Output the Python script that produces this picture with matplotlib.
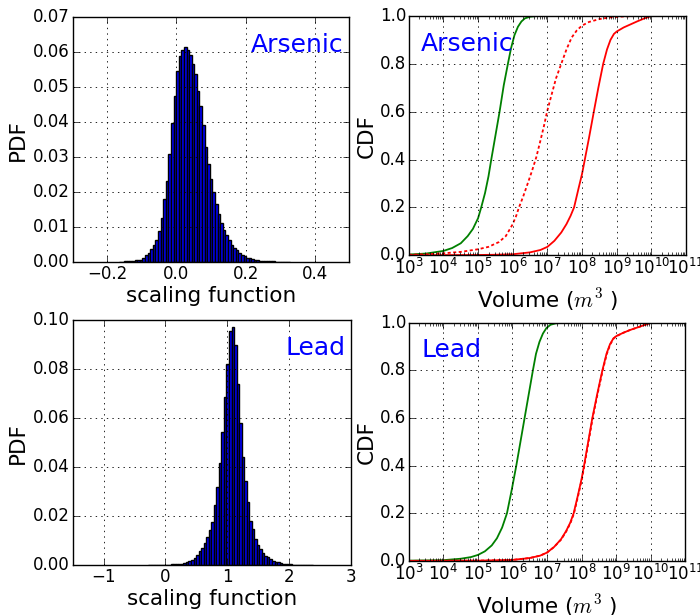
import numpy as np
import matplotlib
matplotlib.use("Agg")
import matplotlib.pyplot as plt

plt.style.use("classic")
plt.rcParams["font.family"] = ["DejaVu Sans"]
plt.rcParams["mathtext.fontset"] = "cm"

# histogram of the scaling function, Arsenic (bin width 0.0075)
as_start, as_width = -0.166, 0.0075
pdf_arsenic = [0.0001, 0.0001, 0.0002, 0.0002, 0.0003, 0.0004, 0.0005, 0.0006,
               0.0007, 0.0012, 0.0019, 0.0026, 0.0036, 0.0049, 0.0062, 0.0089,
               0.0127, 0.0179, 0.0233, 0.0310, 0.0397, 0.0476, 0.0546, 0.0589,
               0.0605, 0.0616,
               0.0605, 0.0593, 0.0567, 0.0538, 0.0489, 0.0446, 0.0392, 0.0330,
               0.0281, 0.0238, 0.0200, 0.0165, 0.0138, 0.0111, 0.0092, 0.0076,
               0.0062, 0.0050, 0.0041, 0.0033, 0.0027, 0.0021, 0.0016, 0.0012,
               0.0010, 0.0008, 0.0006, 0.0005, 0.0004, 0.0003,
               0.0003, 0.0002, 0.0002, 0.0002, 0.0001, 0.0001, 0.0001, 0.0001,
               0.0001, 0.0001]

# histogram of the scaling function, Lead (bin width 0.041)
pb_start, pb_width = -0.283, 0.041
pdf_lead = [0.0001, 0.0001, 0.0001, 0.0001, 0.0001, 0.0002, 0.0002, 0.0002,
            0.0002, 0.0003, 0.0003, 0.0003, 0.0004,
            0.0005, 0.0008, 0.0012, 0.0016, 0.0022, 0.0029, 0.0042, 0.0056,
            0.0069, 0.0090, 0.0114, 0.0144, 0.0178, 0.0246, 0.0320, 0.0418,
            0.0545, 0.0687, 0.0823, 0.0955, 0.0973,
            0.0898, 0.0740, 0.0580, 0.0443, 0.0345, 0.0260, 0.0182, 0.0147,
            0.0106, 0.0083, 0.0067, 0.0049, 0.0038, 0.0033, 0.0024, 0.0019,
            0.0015, 0.0011, 0.0008, 0.0005, 0.0004,
            0.0003, 0.0003, 0.0002, 0.0002, 0.0002, 0.0001, 0.0001, 0.0001,
            0.0001, 0.0001]

# CDF curves: log10(volume) and cumulative probability
as_green_logv = [3.0, 3.5, 4.0, 4.25, 4.5, 4.7, 4.85, 5.0, 5.09, 5.2, 5.3, 5.38,
                 5.5, 5.62, 5.74, 5.86, 5.95, 6.05, 6.15, 6.25, 6.35, 6.5, 6.7]
as_green_cdf = [0.003, 0.007, 0.018, 0.03, 0.05, 0.08, 0.11, 0.155, 0.2, 0.26,
                0.33, 0.4, 0.5, 0.6, 0.71, 0.8, 0.865, 0.92, 0.955, 0.977,
                0.99, 0.997, 1.0]
as_dash_logv = [3.0, 3.5, 4.0, 4.5, 5.0, 5.3, 5.6, 5.8, 6.0, 6.1, 6.18, 6.3,
                6.42, 6.55, 6.68, 6.8, 6.9, 6.99, 7.1, 7.25, 7.4, 7.55, 7.7,
                7.85, 8.0, 8.2, 8.5, 8.8, 9.2, 9.6, 10.0]
as_dash_cdf = [0.002, 0.004, 0.008, 0.014, 0.025, 0.035, 0.055, 0.08, 0.13,
               0.165, 0.2, 0.245, 0.295, 0.35, 0.41, 0.48, 0.54, 0.6, 0.66,
               0.74, 0.8, 0.86, 0.91, 0.94, 0.96, 0.975, 0.987, 0.994, 0.998,
               1.0, 1.0]
as_red_logv = [3.0, 5.0, 5.5, 6.0, 6.5, 6.8, 7.0, 7.2, 7.4, 7.55, 7.67, 7.77,
               7.9, 8.0, 8.08, 8.2, 8.34, 8.47, 8.61, 8.72, 8.82, 8.92, 9.0,
               9.2, 9.4, 9.6, 9.8, 10.0]
as_red_cdf = [0.0, 0.001, 0.002, 0.004, 0.012, 0.022, 0.035, 0.06, 0.095, 0.13,
              0.165, 0.2, 0.28, 0.34, 0.4, 0.49, 0.6, 0.7, 0.8, 0.86, 0.9,
              0.925, 0.935, 0.952, 0.965, 0.978, 0.99, 1.0]

pb_green_logv = [3.0, 4.0, 4.5, 4.8, 5.0, 5.2, 5.4, 5.55, 5.7, 5.84, 5.98, 6.11,
                 6.23, 6.35, 6.47, 6.59, 6.68, 6.78, 6.88, 6.98, 7.1, 7.25,
                 7.45]
pb_green_cdf = [0.001, 0.003, 0.009, 0.016, 0.025, 0.04, 0.065, 0.095, 0.14,
                0.2, 0.3, 0.4, 0.5, 0.6, 0.7, 0.8, 0.87, 0.92, 0.955, 0.978,
                0.992, 0.998, 1.0]
pb_red_logv = [3.0, 5.0, 6.0, 6.5, 6.8, 7.0, 7.2, 7.4, 7.55, 7.67, 7.77, 7.9,
               8.0, 8.07, 8.19, 8.31, 8.45, 8.6, 8.72, 8.82, 8.92, 9.01, 9.2,
               9.4, 9.6, 9.8, 10.0]
pb_red_cdf = [0.0, 0.001, 0.004, 0.012, 0.022, 0.035, 0.058, 0.09, 0.125, 0.16,
              0.2, 0.28, 0.345, 0.4, 0.5, 0.6, 0.7, 0.8, 0.87, 0.91, 0.935,
              0.945, 0.958, 0.97, 0.98, 0.99, 1.0]
pb_dash_logv = [3.0, 5.0, 6.0, 6.5, 6.8, 7.0, 7.2, 7.41, 7.56, 7.68, 7.78, 7.91,
                8.01, 8.08, 8.2, 8.32, 8.46, 8.61, 8.73, 8.83, 8.93, 9.02, 9.2,
                9.4, 9.6, 9.8, 10.0]
pb_dash_cdf = [0.0, 0.001, 0.004, 0.012, 0.022, 0.035, 0.058, 0.09, 0.125,
               0.16, 0.2, 0.28, 0.345, 0.4, 0.5, 0.6, 0.7, 0.8, 0.87, 0.91,
               0.935, 0.945, 0.958, 0.97, 0.98, 0.99, 1.0]

tick_fs = 12
label_fs = 15.5
name_fs = 18

fig = plt.figure(figsize=(7.0, 6.15), dpi=100, facecolor="white")
ax_tl = fig.add_axes([0.104, 0.574, 0.395, 0.398])
ax_tr = fig.add_axes([0.584, 0.585, 0.396, 0.389])
ax_bl = fig.add_axes([0.104, 0.081, 0.397, 0.398])
ax_br = fig.add_axes([0.584, 0.088, 0.395, 0.387])


def style_axes(ax):
    ax.grid(True, color="k", linestyle=":", linewidth=0.6)
    ax.tick_params(labelsize=tick_fs, pad=2)
    ax.tick_params(which="both", direction="in")


def draw_hist(ax, start, width, heights, xlim, ylim, yticks, xticks, name):
    lefts = start + width * np.arange(len(heights))
    ax.bar(lefts, heights, width=width, align="edge", color="b",
           edgecolor="k", linewidth=1)
    ax.set_xlim(*xlim)
    ax.set_ylim(*ylim)
    ax.set_yticks(yticks)
    ax.set_xticks(xticks)
    style_axes(ax)
    ax.set_axisbelow(False)
    ax.set_ylabel("PDF", fontsize=label_fs, labelpad=4)
    ax.set_xlabel("scaling function", fontsize=label_fs, labelpad=2)
    ax.text(0.98, 0.935, name, transform=ax.transAxes, ha="right", va="top",
            color="b", fontsize=name_fs)


def draw_cdf(ax, curves, name):
    for logv, cdf, color, ls in curves:
        line, = ax.plot(10.0 ** np.array(logv), cdf, color=color, linewidth=1.3,
                        linestyle=ls)
        if ls == "--":
            line.set_dashes((2.2, 1.8))
    ax.set_xscale("log")
    ax.set_xlim(1e3, 1e11)
    ax.set_ylim(0, 1)
    ax.set_yticks([0.0, 0.2, 0.4, 0.6, 0.8, 1.0])
    ax.set_xticks([10.0 ** k for k in range(3, 12)])
    style_axes(ax)
    ax.set_ylabel("CDF", fontsize=label_fs, labelpad=2)
    ax.set_xlabel("Volume ($m^3$ )", fontsize=label_fs, labelpad=6)
    ax.text(0.045, 0.935, name, transform=ax.transAxes, ha="left", va="top",
            color="b", fontsize=name_fs)


draw_hist(ax_tl, as_start, as_width, pdf_arsenic, (-0.3, 0.5), (0, 0.07),
          np.arange(0, 0.071, 0.01), [-0.2, 0.0, 0.2, 0.4], "Arsenic")
draw_hist(ax_bl, pb_start, pb_width, pdf_lead, (-1.5, 3.0), (0, 0.10),
          np.arange(0, 0.101, 0.02), [-1, 0, 1, 2, 3], "Lead")

draw_cdf(ax_tr, [(as_green_logv, as_green_cdf, "g", "-"),
                 (as_dash_logv, as_dash_cdf, "r", "--"),
                 (as_red_logv, as_red_cdf, "r", "-")], "Arsenic")
draw_cdf(ax_br, [(pb_green_logv, pb_green_cdf, "g", "-"),
                 (pb_dash_logv, pb_dash_cdf, "r", "--"),
                 (pb_red_logv, pb_red_cdf, "r", "-")], "Lead")

fig.savefig("out.png", dpi=100, facecolor="white")
